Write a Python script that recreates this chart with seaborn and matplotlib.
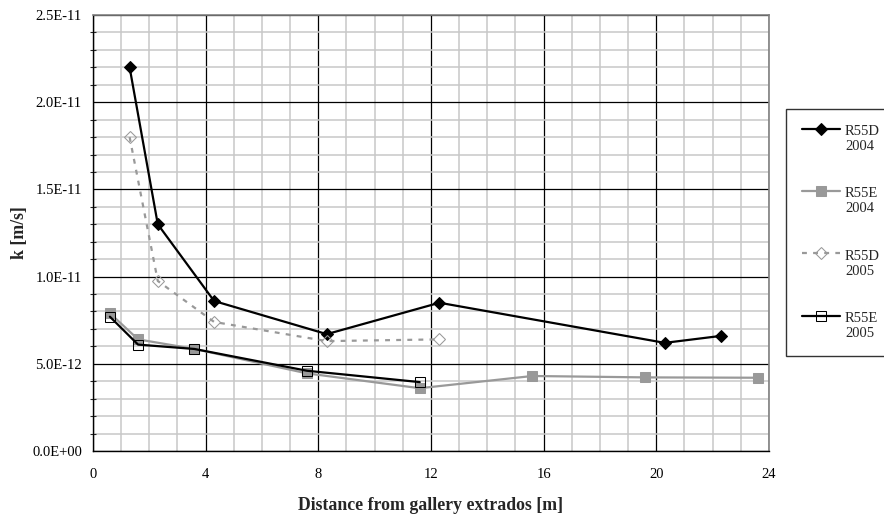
import numpy as np
import pandas as pd
import seaborn as sns
import matplotlib
matplotlib.use("Agg")
import matplotlib.pyplot as plt
from matplotlib.ticker import MultipleLocator, FuncFormatter

# Values
x_d2004 = [1.3, 2.3, 4.3, 8.3, 12.3, 20.3, 22.3]
k_d2004 = [2.2e-11, 1.3e-11, 8.6e-12, 6.7e-12, 8.5e-12, 6.2e-12, 6.6e-12]

x_e2004 = [0.6, 1.6, 3.6, 7.6, 11.6, 15.6, 19.6, 23.6]
k_e2004 = [7.9e-12, 6.4e-12, 5.85e-12, 4.45e-12, 3.6e-12, 4.3e-12, 4.22e-12, 4.2e-12]

x_d2005 = [1.3, 2.3, 4.3, 8.3, 12.3]
k_d2005 = [1.8e-11, 9.75e-12, 7.4e-12, 6.3e-12, 6.4e-12]

x_e2005 = [0.6, 1.6, 3.6, 7.6, 11.6]
k_e2005 = [7.7e-12, 6.1e-12, 5.85e-12, 4.6e-12, 3.95e-12]

labels = ["R55D\n2004", "R55E\n2004", "R55D\n2005", "R55E\n2005"]
x_ticks = [0, 4, 8, 12, 16, 20, 24]
y_ticks = [0.0, 5e-12, 1e-11, 1.5e-11, 2e-11, 2.5e-11]

sns.set_style("white")
plt.rcParams["font.family"] = ["Liberation Serif", "DejaVu Serif"]

fig = plt.figure(figsize=(8.84, 5.15), dpi=100)
ax = fig.add_axes([0.1052, 0.1243, 0.7647, 0.8466])

gray = "#999999"

sns.lineplot(x=x_d2004, y=k_d2004, ax=ax, sort=False, color="black", lw=1.6,
             marker="D", markersize=6, markerfacecolor="black",
             markeredgecolor="black", label=labels[0], zorder=5)
sns.lineplot(x=x_e2004, y=k_e2004, ax=ax, sort=False, color=gray, lw=1.6,
             marker="s", markersize=7, markerfacecolor=gray,
             markeredgecolor=gray, label=labels[1], zorder=5)
sns.lineplot(x=x_d2005, y=k_d2005, ax=ax, sort=False, color=gray, lw=1.6,
             linestyle=(0, (2.2, 2.8)), marker="D", markersize=6,
             markerfacecolor="none", markeredgecolor=gray,
             label=labels[2], zorder=5)
sns.lineplot(x=x_e2005, y=k_e2005, ax=ax, sort=False, color="black", lw=1.6,
             marker="s", markersize=7, markerfacecolor="none",
             markeredgecolor="black", label=labels[3], zorder=5)

ax.set_xlim(0, 24)
ax.set_ylim(0, 2.5e-11)
ax.set_xticks(x_ticks)
ax.set_yticks(y_ticks)
ax.xaxis.set_minor_locator(MultipleLocator(1))
ax.yaxis.set_minor_locator(MultipleLocator(1e-12))
ax.yaxis.set_major_formatter(FuncFormatter(lambda v, p: f"{v:.1E}"))

ax.grid(which="minor", color="#c8c8c8", lw=1.1, zorder=0)
ax.grid(which="major", color="black", lw=0.9, zorder=1)
ax.set_axisbelow(True)

for s in ["left", "bottom"]:
    ax.spines[s].set_color("black")
    ax.spines[s].set_linewidth(1.0)
for s in ["top", "right"]:
    ax.spines[s].set_color("#808080")
    ax.spines[s].set_linewidth(1.2)

ax.tick_params(axis="both", which="major", direction="inout", length=6,
               width=1, labelsize=10.5, colors="black")
ax.tick_params(axis="y", which="minor", direction="inout", length=5, width=0.8,
               left=True)
ax.tick_params(axis="x", which="minor", length=0)
ax.tick_params(axis="x", pad=9)
ax.tick_params(axis="y", pad=5)

ax.set_xlabel("Distance from gallery extrados [m]", fontsize=12.75,
              fontweight="bold", labelpad=12)
ax.set_ylabel("k [m/s]", fontsize=12.75, fontweight="bold", labelpad=3)

fs = 10.5
leg = ax.legend(loc="upper left", bbox_to_anchor=(0.889, 0.788),
                bbox_transform=fig.transFigure, fontsize=fs, frameon=True,
                fancybox=False, edgecolor="black", handlelength=2.6,
                handletextpad=0.35, labelspacing=2.35, borderpad=1.1,
                borderaxespad=0)
leg.get_frame().set_linewidth(1.0)
for t in leg.get_texts():
    t.set_multialignment("left")
# put the handle level with the first line of each two-line label
for ln in leg.get_lines():
    ln.set_ydata(np.asarray(ln.get_ydata()) + 0.7 * fs)

fig.savefig("out.png", dpi=100)
